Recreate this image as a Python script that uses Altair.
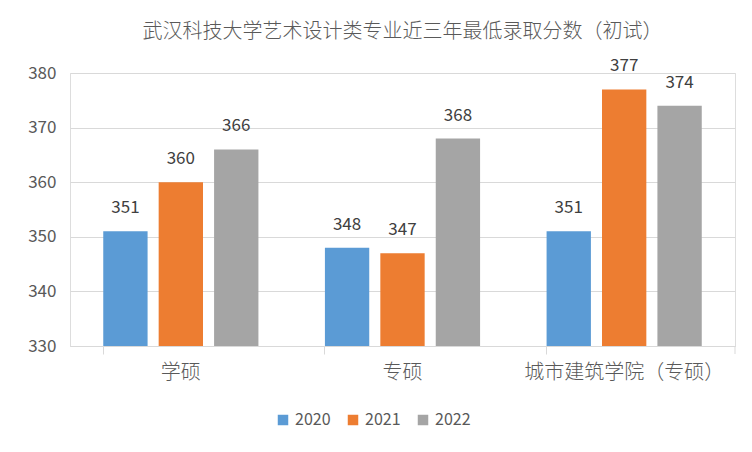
import altair as alt
import pandas as pd

categories = ["学硕", "专硕", "城市建筑学院（专硕）"]
years = ["2020", "2021", "2022"]
v2020 = [351, 348, 351]
v2021 = [360, 347, 377]
v2022 = [366, 368, 374]
colors = ["#5B9BD5", "#ED7D31", "#A5A5A5"]

rows = []
for yr, vals in zip(years, [v2020, v2021, v2022]):
    for c, v in zip(categories, vals):
        rows.append({"cat": c, "year": yr, "value": v, "base": 330})
df = pd.DataFrame(rows)

FONT = "Noto Sans CJK SC"
GRAY = "#595959"

x = alt.X("cat:N", sort=categories, title=None,
          scale=alt.Scale(paddingInner=0.3, paddingOuter=0.15),
          axis=alt.Axis(labelAngle=0, bandPosition=0, domainColor="#D9D9D9",
                        tickColor="#D9D9D9", tickSize=8, labelPadding=8,
                        labelFontSize=20, labelFontWeight=300, labelColor=GRAY,
                        labelFont=FONT, labelLimit=400, grid=False))
xo = alt.XOffset("year:N", scale=alt.Scale(paddingInner=0.2, paddingOuter=0.0))
y = alt.Y("value:Q", title=None,
          scale=alt.Scale(domain=[330, 380], zero=False, nice=False),
          axis=alt.Axis(values=[330, 340, 350, 360, 370, 380], domain=False, ticks=False,
                        labelPadding=14, labelFontSize=17, labelColor=GRAY,
                        labelFont=FONT, gridColor="#D9D9D9"))

base = alt.Chart(df)
bars = base.mark_bar().encode(
    x=x, xOffset=xo, y=y, y2="base:Q",
    color=alt.Color("year:N", scale=alt.Scale(domain=years, range=colors),
                    legend=alt.Legend(title=None, orient="none", direction="horizontal",
                                      legendX=205, legendY=339, symbolType="square",
                                      symbolSize=110, symbolStrokeWidth=0,
                                      labelFontSize=16, labelColor=GRAY, labelFont=FONT,
                                      columnPadding=14, symbolOffset=0)),
)
labels = base.mark_text(baseline="bottom", dy=-14, fontSize=17, color="#404040",
                        font=FONT).encode(
    x=x, xOffset=xo, y=y, text="value:Q")

endtick = alt.Chart(pd.DataFrame({"a": [0]})).mark_rule(color="#D9D9D9").encode(
    x=alt.value(665), y=alt.value(273), y2=alt.value(281))

chart = alt.layer(bars, labels, endtick).properties(
    width=665, height=273,
    title=alt.TitleParams("武汉科技大学艺术设计类专业近三年最低录取分数（初试）",
                          fontSize=20, font=FONT, color=GRAY, fontWeight=300,
                          offset=15, anchor="middle"),
    autosize=alt.AutoSizeParams(type="none"),
    padding={"left": 62, "top": 65, "right": 9, "bottom": 98},
).configure_view(stroke=None).configure(background="white")

chart.save("out.html", embed_options={"renderer": "svg", "actions": False})
